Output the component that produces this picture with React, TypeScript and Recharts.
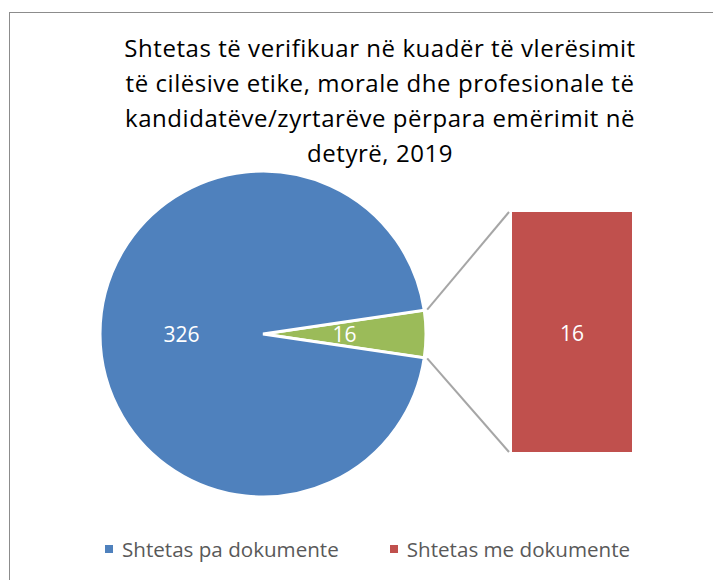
import React from 'react';
import { PieChart, Pie, Cell, BarChart, Bar, XAxis, YAxis, Legend } from 'recharts';

const titleLines = [
  'Shtetas të verifikuar në kuadër të vlerësimit',
  'të cilësive etike, morale dhe profesionale të',
  'kandidatëve/zyrtarëve përpara emërimit në',
  'detyrë, 2019',
];
const pieNames = ['Të tjerë', 'Shtetas pa dokumente'];
const pieValues = [16, 326];
const pieColors = ['#9BBB59', '#4F81BD'];
const barNames = ['Shtetas me dokumente'];
const barValues = [16];
const barColor = '#C0504D';
const legendNames = ['Shtetas pa dokumente', 'Shtetas me dokumente'];
const legendColors = ['#4F81BD', '#C0504D'];

const W = 713;
const H = 580;
const CX = 263;
const CY = 334;
const R = 163;
const FONT = '"Open Sans", "Noto Sans", sans-serif';

const pieData = pieNames.map((n, i) => ({ name: n, value: pieValues[i] }));
const barData = barNames.map((n, i) => ({ name: n, value: barValues[i] }));
const total = pieValues.reduce((a, b) => a + b, 0);
const half = (pieValues[0] / total) * 360 / 2;

const RAD = Math.PI / 180;

const renderPieLabel = (p: any) => {
  const { cx, cy, midAngle, outerRadius, value } = p;
  const r = outerRadius * 0.5;
  const x = cx + r * Math.cos(-midAngle * RAD);
  const y = cy + r * Math.sin(-midAngle * RAD);
  return (
    <text x={x} y={y} fill="#fff" fontSize={21} fontFamily={FONT} textAnchor="middle" dominantBaseline="central">
      {value}
    </text>
  );
};

const BarShape = (p: any) => {
  const { x, y, width, height, fill } = p;
  const ux = CX + (R + 3) * Math.cos(half * RAD);
  const uy = CY - (R + 3) * Math.sin(half * RAD);
  const lx = ux;
  const ly = CY + (R + 3) * Math.sin(half * RAD);
  return (
    <g>
      <line x1={ux} y1={uy} x2={x - 3} y2={y} stroke="#A6A6A6" strokeWidth={2} />
      <line x1={lx} y1={ly} x2={x - 3} y2={y + height} stroke="#A6A6A6" strokeWidth={2} />
      <rect x={x} y={y} width={width} height={height} fill={fill} />
    </g>
  );
};

const renderBarLabel = (p: any) => {
  const { x, y, width, height, value } = p;
  return (
    <text x={x + width / 2} y={y + height / 2 + 1} fill="#fff" fontSize={21} fontFamily={FONT} textAnchor="middle" dominantBaseline="central">
      {value}
    </text>
  );
};

const LegendContent = () => (
  <div style={{ display: 'flex', justifyContent: 'flex-start', paddingLeft: 105, gap: 51, fontFamily: FONT, fontSize: 20.6, lineHeight: '28px', color: '#595959' }}>
    {legendNames.map((n, i) => (
      <div key={n} style={{ display: 'flex', alignItems: 'center' }}>
        <span style={{ width: 8, height: 8, background: legendColors[i], display: 'inline-block', marginRight: 9 }} />
        <span>{n}</span>
      </div>
    ))}
  </div>
);

export default function App() {
  return (
    <div style={{ position: 'fixed', left: 0, top: 0, width: W, height: H, overflow: 'hidden', background: '#fff' }}>
      <div style={{ position: 'absolute', left: 9, top: 12, width: W, height: H, border: '1.5px solid #8c8c8c' }} />
      <div style={{ position: 'absolute', left: 80, width: 600, top: 30, textAlign: 'center', fontFamily: FONT, fontSize: 24, letterSpacing: 0.55, lineHeight: '35px', color: '#000' }}>
        {titleLines.map((l) => (
          <div key={l}>{l}</div>
        ))}
      </div>
      <div style={{ position: 'absolute', left: 0, top: 0 }}>
        <PieChart width={W} height={H} margin={{ top: 0, right: 0, bottom: 0, left: 0 }}>
          <Pie
            data={pieData}
            dataKey="value"
            cx={CX}
            cy={CY}
            outerRadius={R}
            startAngle={half}
            endAngle={half - 360}
            stroke="#fff"
            strokeWidth={3}
            label={renderPieLabel}
            labelLine={false}
            isAnimationActive={false}
          >
            {pieData.map((d, i) => (
              <Cell key={d.name} fill={pieColors[i]} />
            ))}
          </Pie>
          <Legend
            content={LegendContent}
            wrapperStyle={{ position: 'absolute', left: 0, width: W, top: 535 }}
          />
        </PieChart>
      </div>
      <div style={{ position: 'absolute', left: 0, top: 0 }}>
        <BarChart width={W} height={H} data={barData} margin={{ left: 512, right: W - 632, top: 212, bottom: H - 452 }} barCategoryGap={0}>
          <XAxis dataKey="name" hide />
          <YAxis hide domain={[0, 16]} />
          <Bar dataKey="value" fill={barColor} shape={BarShape} label={renderBarLabel} isAnimationActive={false} />
        </BarChart>
      </div>
    </div>
  );
}
